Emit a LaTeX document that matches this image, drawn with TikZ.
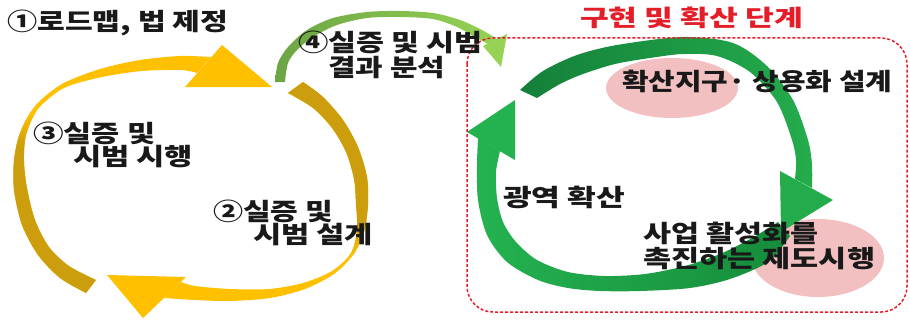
\documentclass[tikz,border=0pt]{standalone}
\usepackage{graphicx}
\usepackage{fontspec}
\newfontfamily\kr{Noto Sans CJK KR}
\definecolor{yelC}{RGB}{255,192,0}
\definecolor{darkC}{RGB}{204,158,14}
\definecolor{txtC}{RGB}{25,25,25}
\definecolor{redC}{RGB}{228,30,40}
\definecolor{pinkC}{RGB}{242,192,192}
\definecolor{gA}{RGB}{108,165,68}
\definecolor{gB}{RGB}{150,210,84}
\definecolor{dgA}{RGB}{20,128,58}
\definecolor{dgB}{RGB}{36,172,76}
\definecolor{egA}{RGB}{36,178,80}
\definecolor{egB}{RGB}{22,140,60}
\begin{document}
\begin{tikzpicture}[x=1pt,y=-1pt,
  txt/.style={inner sep=0pt, anchor=west, text=txtC, font=\kr\bfseries\fontsize{24}{24}\selectfont},
  ttl/.style={inner sep=0pt, anchor=west, text=redC, font=\kr\bfseries\fontsize{23}{23}\selectfont},
  blob/.style={fill=pinkC, draw=none},
  reddash/.style={draw=redC, line width=1.5pt, dash pattern=on 3pt off 2pt}]
\useasboundingbox (0,0) rectangle (910,321);

% pink ellipses
\fill[blob] (672,88) ellipse [x radius=66, y radius=30];
\fill[blob] (818,258) ellipse [x radius=66, y radius=39];

% small green arrow (4)
\shade[left color=gA, right color=gB]
  plot[smooth] coordinates {(275,82) (278,63) (288,47) (307,30) (333,18) (367,12) (400,11) (433,13) (460,20) (482,30) (497,39)}
  -- plot[smooth] coordinates {(488,44) (473,36) (457,27) (433,19) (400,17) (367,18) (337,25) (313,37) (297,50) (288,63) (285,82)} -- cycle;
\fill[gB] (483,46) -- (507,34) -- (501,67) -- cycle;

% yellow arrow B (right side, head bottom-left)
\fill[yelC, path picture={
    \fill[darkC] (270,60) rectangle (380,222);
    \foreach \i [evaluate=\i as \p using int(100-\i*6)] in {0,...,16}
      {\fill[darkC!\p!yelC] (270,{222+2*\i}) rectangle (380,{224.6+2*\i});}
  }]
  plot[smooth] coordinates {(303,82) (323,97) (343,120) (358,147) (367,177) (368,205) (364,232) (353,255) (334,274) (305,289) (270,298) (230,301) (195,300) (164,298)}
  -- plot[smooth] coordinates {(181,282) (195,286) (230,289) (269,289) (303,283) (332,271) (351,253) (357,230) (356,204) (354,179) (346,152) (332,128) (313,108) (288,93)} -- cycle;
\fill[yelC] (186,277) -- (143,318) -- (107,275) -- cycle;

% yellow arrow A (left side, head top-right)
\fill[yelC, path picture={
    \fill[darkC] (0,146) rectangle (160,330);
    \foreach \i [evaluate=\i as \p using int(\i*6)] in {0,...,16}
      {\fill[darkC!\p!yelC] (0,{112+2*\i}) rectangle (160,{114.6+2*\i});}
  }]
  plot[smooth] coordinates {(86,293) (60,278) (38,255) (22,225) (14,190) (14,160) (20,133) (35,106) (62,84) (100,69) (140,60) (180,56) (211,57)}
  -- plot[smooth] coordinates {(197,73) (181,70) (142,71) (102,77) (64,88) (38,109) (26,135) (24,161) (27,188) (35,220) (49,247) (69,266) (96,280)} -- cycle;
\fill[yelC] (222,45) -- (272,87) -- (185,87) -- cycle;

% green arrow E (bottom, head at left)
\shade[left color=egA, right color=egB]
  plot[smooth] coordinates {(790,236) (768,262) (730,279) (690,288) (640,291) (600,291) (568,288) (538,280) (507,262) (487,235) (478,200) (477,165) (478,138)}
  -- plot[smooth] coordinates {(500,151) (496,172) (497,198) (503,222) (516,242) (537,260) (568,272) (605,276) (645,274) (685,266) (720,254) (752,238) (778,222)} -- cycle;
\fill[egA] (467,132) -- (515,100) -- (515,160) -- cycle;

% green arrow D (top, head at right)
\shade[left color=dgA, right color=dgB]
  plot[smooth] coordinates {(520,90) (543,71) (577,55) (617,45) (683,37) (733,43) (767,66) (793,100) (808,140) (812,165) (812,188)}
  -- plot[smooth] coordinates {(795,179) (796,160) (792,140) (777,102) (750,72) (717,56) (683,54) (650,58) (615,64) (583,74) (560,84) (537,98)} -- cycle;
\fill[dgB] (780,171) -- (833,200) -- (781,232) -- cycle;

% red dashed frame
\draw[reddash, rounded corners=26pt] (467,38) rectangle (907,312);

% texts
\node[ttl] (title) at (580,18) {\resizebox{223pt}{\height}{구현 및 확산 단계}};
\node[txt] (t1) at (7,23) {\resizebox{221pt}{\height}{①로드맵, 법 제정}};
\node[txt] (t4a) at (298,42.5) {\resizebox{184pt}{\height}{④실증 및 시범}};
\node[txt] (t4b) at (328,67.5) {\resizebox{117pt}{\height}{결과 분석}};
\node[txt] (t3a) at (33,133) {\resizebox{122pt}{\height}{③실증 및}};
\node[txt] (t3b) at (73,157) {\resizebox{120pt}{\height}{시범 시행}};
\node[txt] (t2a) at (213,211) {\resizebox{120pt}{\height}{②실증 및}};
\node[txt] (t2b) at (253,235) {\resizebox{120pt}{\height}{시범 설계}};
\node[txt] (e1) at (622,81) {\resizebox{270pt}{\height}{확산지구· 상용화 설계}};
\node[txt] (e2) at (503,197) {\resizebox{122pt}{\height}{광역 확산}};
\node[txt] (e3a) at (643,233.5) {\resizebox{175pt}{\height}{사업 활성화를}};
\node[txt] (e3b) at (643,259) {\resizebox{232pt}{\height}{촉진하는 제도시행}};
\end{tikzpicture}
\end{document}
